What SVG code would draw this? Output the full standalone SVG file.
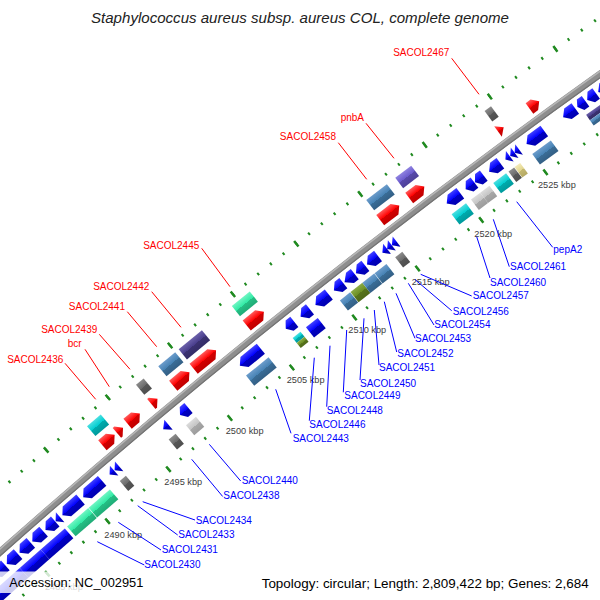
<svg xmlns="http://www.w3.org/2000/svg" width="600" height="600" viewBox="0 0 600 600">
<defs>
<linearGradient id="gRed" x1="0" y1="0" x2="0" y2="1"><stop offset="0" stop-color="#ff5a5a"/><stop offset="0.5" stop-color="#ff0000"/><stop offset="0.5" stop-color="#d40000"/><stop offset="1" stop-color="#c00000"/></linearGradient>
<linearGradient id="gBlue" x1="0" y1="0" x2="0" y2="1"><stop offset="0" stop-color="#4040ff"/><stop offset="0.5" stop-color="#0000ff"/><stop offset="0.5" stop-color="#0000c4"/><stop offset="1" stop-color="#0000b0"/></linearGradient>
<linearGradient id="gSteel" x1="0" y1="0" x2="0" y2="1"><stop offset="0" stop-color="#6c9ccb"/><stop offset="0.5" stop-color="#4682b4"/><stop offset="0.5" stop-color="#3a6d97"/><stop offset="1" stop-color="#335f85"/></linearGradient>
<linearGradient id="gDsb" x1="0" y1="0" x2="0" y2="1"><stop offset="0" stop-color="#6b60aa"/><stop offset="0.5" stop-color="#483d8b"/><stop offset="0.5" stop-color="#3b3272"/><stop offset="1" stop-color="#342c66"/></linearGradient>
<linearGradient id="gMsb" x1="0" y1="0" x2="0" y2="1"><stop offset="0" stop-color="#8f82e0"/><stop offset="0.5" stop-color="#6a5acd"/><stop offset="0.5" stop-color="#5849ab"/><stop offset="1" stop-color="#4e4199"/></linearGradient>
<linearGradient id="gCyan" x1="0" y1="0" x2="0" y2="1"><stop offset="0" stop-color="#4ddfe1"/><stop offset="0.5" stop-color="#00ced1"/><stop offset="0.5" stop-color="#00abad"/><stop offset="1" stop-color="#009a9c"/></linearGradient>
<linearGradient id="gMint" x1="0" y1="0" x2="0" y2="1"><stop offset="0" stop-color="#70f5c3"/><stop offset="0.5" stop-color="#30eaa5"/><stop offset="0.5" stop-color="#25c085"/><stop offset="1" stop-color="#20ac77"/></linearGradient>
<linearGradient id="gGray" x1="0" y1="0" x2="0" y2="1"><stop offset="0" stop-color="#8c8c8c"/><stop offset="0.5" stop-color="#6a6a6a"/><stop offset="0.5" stop-color="#575757"/><stop offset="1" stop-color="#4e4e4e"/></linearGradient>
<linearGradient id="gSilver" x1="0" y1="0" x2="0" y2="1"><stop offset="0" stop-color="#dcdcdc"/><stop offset="0.5" stop-color="#c4c4c4"/><stop offset="0.5" stop-color="#a9a9a9"/><stop offset="1" stop-color="#9c9c9c"/></linearGradient>
<linearGradient id="gOlive" x1="0" y1="0" x2="0" y2="1"><stop offset="0" stop-color="#8aaa45"/><stop offset="0.5" stop-color="#6b8e23"/><stop offset="0.5" stop-color="#58751c"/><stop offset="1" stop-color="#4f6919"/></linearGradient>
<linearGradient id="gKhaki" x1="0" y1="0" x2="0" y2="1"><stop offset="0" stop-color="#f3eab8"/><stop offset="0.5" stop-color="#e2d58e"/><stop offset="0.5" stop-color="#c4b870"/><stop offset="1" stop-color="#b5a964"/></linearGradient>
</defs>
<style>
.red{fill:url(#gRed)} .blue{fill:url(#gBlue)} .steel{fill:url(#gSteel)} .dsb{fill:url(#gDsb)} .msb{fill:url(#gMsb)}
.cyan{fill:url(#gCyan)} .mint{fill:url(#gMint)} .gray{fill:url(#gGray)} .silver{fill:url(#gSilver)} .olive{fill:url(#gOlive)} .khaki{fill:url(#gKhaki)}
.tick{fill:none;stroke:#208a20}
.tl{font-family:"Liberation Sans",Arial,sans-serif;font-size:9.2px;fill:#3c3c3c}
.lr{font-family:"Liberation Sans",Arial,sans-serif;font-size:10px;fill:#ff0000;text-anchor:end}
.lb{font-family:"Liberation Sans",Arial,sans-serif;font-size:10px;fill:#0000ff}
.cr{stroke:#ff0000;stroke-width:1;fill:none}
.cb{stroke:#0000ff;stroke-width:1;fill:none}
.leg{font-family:"Liberation Sans",Arial,sans-serif;font-size:13px;fill:#000}
</style>
<rect width="600" height="600" fill="#ffffff"/>
<g id="ruler">
<path class="tick" stroke-width="3" stroke-dasharray="2 14.2098" stroke-dashoffset="1" d="M-99.38 579.02 A7248 7248 0 0 1 688.12 -44.09"/>
<path class="tick" stroke-width="7" stroke-dasharray="2.5 78.549" stroke-dashoffset="49.879" d="M-99.38 579.02 A7248 7248 0 0 1 688.12 -44.09"/>
<path class="tick" stroke-width="3" stroke-dasharray="2 14" stroke-dashoffset="1" d="M-36.09 648.52 A7154 7154 0 0 1 741.19 33.49"/>
<path class="tick" stroke-width="7" stroke-dasharray="2.5 77.5" stroke-dashoffset="49.25" d="M-36.09 648.52 A7154 7154 0 0 1 741.19 33.49"/>
<text class="tl" x="45" y="590">2485 kbp</text>
<text class="tl" x="104.3" y="537.6">2490 kbp</text>
<text class="tl" x="164.3" y="484.8">2495 kbp</text>
<text class="tl" x="225.7" y="434">2500 kbp</text>
<text class="tl" x="286.7" y="382.6">2505 kbp</text>
<text class="tl" x="348.3" y="333.3">2510 kbp</text>
<text class="tl" x="411.7" y="285">2515 kbp</text>
<text class="tl" x="474.3" y="236.6">2520 kbp</text>
<text class="tl" x="538" y="188.3">2525 kbp</text>
</g>
<g id="backbone" fill="none">
<circle cx="4780.7" cy="5937.9" r="7201.5" stroke="#8e8e8e" stroke-width="7"/>
<circle cx="4780.7" cy="5937.9" r="7203.8" stroke="#b6b6b6" stroke-width="1.6"/>
<circle cx="4780.7" cy="5937.9" r="7198.6" stroke="#737373" stroke-width="1.2"/>
</g>
<g id="features" transform="translate(4780.7 5937.9)">
<!-- forward strand CDS (outer, r=7215) and COG (outer, r=7233) -->
<g id="SACOL2435"><g transform="rotate(-40.3583) translate(0 -7215)"><polygon class="red" points="-8,-6.5 2,-6.5 8,0 2,6.5 -8,6.5"/></g><g transform="rotate(-40.3457) translate(0 -7233)"><rect class="cyan" x="-9" y="-6.5" width="18" height="13"/></g></g>
<g id="SACOL2436"><g transform="rotate(-40.2391) translate(0 -7215)"><polygon class="red" points="-4,-6.5 -2,-6.5 4,0 -2,6.5 -4,6.5"/></g></g>
<g id="bcr"><g transform="rotate(-40.0962) translate(0 -7215)"><polygon class="red" points="-8,-6.5 2,-6.5 8,0 2,6.5 -8,6.5"/></g></g>
<g id="SACOL2439"><g transform="rotate(-39.8818) translate(0 -7215)"><polygon class="red" points="-4,-6.5 -2,-6.5 4,0 -2,6.5 -4,6.5"/></g><g transform="rotate(-39.8704) translate(0 -7233)"><rect class="gray" x="-5" y="-6.5" width="10" height="13"/></g></g>
<g id="SACOL2441"><g transform="rotate(-39.6038) translate(0 -7215)"><polygon class="red" points="-10.5,-6.5 4.5,-6.5 10.5,0 4.5,6.5 -10.5,6.5"/></g><g transform="rotate(-39.5932) translate(0 -7233)"><rect class="steel" x="-11" y="-6.5" width="22" height="13"/></g></g>
<g id="SACOL2442"><g transform="rotate(-39.3616) translate(0 -7215)"><polygon class="red" points="-14.5,-6.5 8.5,-6.5 14.5,0 8.5,6.5 -14.5,6.5"/></g><g transform="rotate(-39.3516) translate(0 -7233)"><rect class="dsb" x="-15" y="-6.5" width="30" height="13"/></g></g>
<g id="SACOL2445"><g transform="rotate(-38.8454) translate(0 -7215)"><polygon class="red" points="-11,-6.5 5,-6.5 11,0 5,6.5 -11,6.5"/></g><g transform="rotate(-38.8367) translate(0 -7233)"><rect class="mint" x="-11.5" y="-6.5" width="23" height="13"/></g></g>
<g id="SACOL2458"><g transform="rotate(-37.4875) translate(0 -7215)"><polygon class="red" points="-12,-6.5 6,-6.5 12,0 6,6.5 -12,6.5"/></g><g transform="rotate(-37.4702) translate(0 -7233)"><rect class="steel" x="-13" y="-6.5" width="26" height="13"/></g></g>
<g id="pnbA"><g transform="rotate(-37.2175) translate(0 -7215)"><polygon class="red" points="-9.5,-6.5 3.5,-6.5 9.5,0 3.5,6.5 -9.5,6.5"/></g><g transform="rotate(-37.2048) translate(0 -7233)"><rect class="msb" x="-10" y="-6.5" width="20" height="13"/></g></g>
<g id="SACOL2467"><g transform="rotate(-36.3836) translate(0 -7215)"><polygon class="red" points="-3.5,-6.5 3.5,0 -3.5,6.5"/></g><g transform="rotate(-36.3691) translate(0 -7233)"><rect class="gray" x="-4" y="-6.5" width="8" height="13"/></g></g>
<g id="SACOL2469"><g transform="rotate(-36.0541) translate(0 -7215)"><polygon class="red" points="-6,-6.5 0,-6.5 6,0 0,6.5 -6,6.5"/></g></g>
<!-- reverse strand CDS (inner, r=7188) and COG (inner, r=7170) -->
<g id="SACOL2425"><g transform="rotate(-41.8399) translate(0 -7188)"><polygon class="blue" points="8,-6.5 -2,-6.5 -8,0 -2,6.5 8,6.5"/></g></g>
<g id="SACOL2426"><g transform="rotate(-41.6964) translate(0 -7188)"><polygon class="blue" points="8,-6.5 -2,-6.5 -8,0 -2,6.5 8,6.5"/></g><g transform="rotate(-41.7084) translate(0 -7170)"><rect class="blue" x="-18.5" y="-6.5" width="37" height="13"/></g></g>
<g id="SACOL2427"><g transform="rotate(-41.5569) translate(0 -7188)"><polygon class="blue" points="7.5,-6.5 -1.5,-6.5 -7.5,0 -1.5,6.5 7.5,6.5"/></g><g transform="rotate(-41.4487) translate(0 -7170)"><rect class="blue" x="-14" y="-6.5" width="28" height="13"/></g></g>
<g id="SACOL2428"><g transform="rotate(-41.4214) translate(0 -7188)"><polygon class="blue" points="7.5,-6.5 -1.5,-6.5 -7.5,0 -1.5,6.5 7.5,6.5"/></g><g transform="rotate(-41.2090) translate(0 -7170)"><rect class="blue" x="-16" y="-6.5" width="32" height="13"/></g></g>
<g id="SACOL2429"><g transform="rotate(-41.2859) translate(0 -7188)"><polygon class="blue" points="7.5,-6.5 -1.5,-6.5 -7.5,0 -1.5,6.5 7.5,6.5"/></g><g transform="rotate(-41.1544) translate(0 -7188)"><polygon class="blue" points="6.5,-6.5 -0.5,-6.5 -6.5,0 -0.5,6.5 6.5,6.5"/></g><g transform="rotate(-41.0747) translate(0 -7188)"><polygon class="blue" points="3,-6.5 -3,0 3,6.5"/></g></g>
<g id="SACOL2430"><g transform="rotate(-40.9312) translate(0 -7188)"><polygon class="blue" points="12,-6.5 -6,-6.5 -12,0 -6,6.5 12,6.5"/></g><g transform="rotate(-40.9453) translate(0 -7170)"><rect class="mint" x="-14" y="-6.5" width="28" height="13"/></g></g>
<g id="SACOL2431"><g transform="rotate(-40.7080) translate(0 -7188)"><polygon class="blue" points="12.5,-6.5 -6.5,-6.5 -12.5,0 -6.5,6.5 12.5,6.5"/></g><g transform="rotate(-40.7175) translate(0 -7170)"><rect class="mint" x="-14" y="-6.5" width="28" height="13"/></g></g>
<g id="SACOL2433"><g transform="rotate(-40.5063) translate(0 -7188)"><polygon class="blue" points="3,-6.5 -3,0 3,6.5"/></g></g>
<g id="SACOL2434"><g transform="rotate(-40.4537) translate(0 -7188)"><polygon class="blue" points="3,-6.5 -3,0 3,6.5"/></g><g transform="rotate(-40.4698) translate(0 -7170)"><rect class="gray" x="-4" y="-6.5" width="8" height="13"/></g></g>
<g id="SACOL2438"><g transform="rotate(-39.9428) translate(0 -7188)"><polygon class="blue" points="3.5,-6.5 -3.5,0 3.5,6.5"/></g><g transform="rotate(-39.9544) translate(0 -7170)"><rect class="gray" x="-4.5" y="-6.5" width="9" height="13"/></g></g>
<g id="SACOL2440"><g transform="rotate(-39.7515) translate(0 -7188)"><polygon class="blue" points="5.5,-6.5 -0.5,-6.5 -5.5,0 -0.5,6.5 5.5,6.5"/></g><g transform="rotate(-39.7586) translate(0 -7170)"><rect class="silver" x="-6.5" y="-6.5" width="13" height="13"/></g></g>
<g id="SACOL2443"><g transform="rotate(-39.0699) translate(0 -7188)"><polygon class="blue" points="13.5,-6.5 -7.5,-6.5 -13.5,0 -7.5,6.5 13.5,6.5"/></g><g transform="rotate(-39.0730) translate(0 -7170)"><rect class="steel" x="-14.5" y="-6.5" width="29" height="13"/></g></g>
<g id="SACOL2446"><g transform="rotate(-38.6634) translate(0 -7188)"><polygon class="blue" points="5.5,-6.5 -0.5,-6.5 -5.5,0 -0.5,6.5 5.5,6.5"/></g><g transform="rotate(-38.6702) translate(0 -7170)"><rect class="cyan" x="-5" y="-6.5" width="10" height="6.5"/><rect class="olive" x="-5" y="0" width="10" height="6.5"/></g></g>
<g id="SACOL2448"><g transform="rotate(-38.5080) translate(0 -7188)"><polygon class="blue" points="6,-6.5 0,-6.5 -6,0 0,6.5 6,6.5"/></g><g transform="rotate(-38.5144) translate(0 -7170)"><rect class="blue" x="-7.5" y="-6.5" width="15" height="13"/></g></g>
<g id="SACOL2449"><g transform="rotate(-38.3366) translate(0 -7188)"><polygon class="blue" points="8.5,-6.5 -2.5,-6.5 -8.5,0 -2.5,6.5 8.5,6.5"/></g></g>
<g id="SACOL2450"><g transform="rotate(-38.1692) translate(0 -7188)"><polygon class="blue" points="6,-6.5 0,-6.5 -6,0 0,6.5 6,6.5"/></g><g transform="rotate(-38.1764) translate(0 -7170)"><rect class="steel" x="-6.5" y="-6.5" width="13" height="13"/></g></g>
<g id="SACOL2451"><g transform="rotate(-38.0576) translate(0 -7188)"><polygon class="blue" points="6.5,-6.5 0.5,-6.5 -6.5,0 0.5,6.5 6.5,6.5"/></g><g transform="rotate(-38.0605) translate(0 -7170)"><rect class="olive" x="-7.5" y="-6.5" width="15" height="13"/></g></g>
<g id="SACOL2452"><g transform="rotate(-37.9460) translate(0 -7188)"><polygon class="blue" points="6,-6.5 0,-6.5 -6,0 0,6.5 6,6.5"/></g><g transform="rotate(-37.9406) translate(0 -7170)"><rect class="steel" x="-7.5" y="-6.5" width="15" height="13"/></g></g>
<g id="SACOL2453"><g transform="rotate(-37.8264) translate(0 -7188)"><polygon class="blue" points="7,-6.5 -1,-6.5 -7,0 -1,6.5 7,6.5"/></g><g transform="rotate(-37.8168) translate(0 -7170)"><rect class="steel" x="-7.5" y="-6.5" width="15" height="13"/></g></g>
<g id="SACOL2454"><g transform="rotate(-37.7029) translate(0 -7188)"><polygon class="blue" points="3,-6.5 -3,0 3,6.5"/></g></g>
<g id="SACOL2456"><g transform="rotate(-37.6551) translate(0 -7188)"><polygon class="blue" points="3,-6.5 -3,0 3,6.5"/></g><g transform="rotate(-37.6330) translate(0 -7170)"><rect class="gray" x="-4.5" y="-6.5" width="9" height="13"/></g></g>
<g id="SACOL2457"><g transform="rotate(-37.6072) translate(0 -7188)"><polygon class="blue" points="3,-6.5 -3,0 3,6.5"/></g></g>
<g id="SACOL2460"><g transform="rotate(-37.0134) translate(0 -7188)"><polygon class="blue" points="8.5,-6.5 -2.5,-6.5 -8.5,0 -2.5,6.5 8.5,6.5"/></g><g transform="rotate(-37.0296) translate(0 -7170)"><rect class="cyan" x="-9" y="-6.5" width="18" height="13"/></g></g>
<g id="SACOL2461"><g transform="rotate(-36.8484) translate(0 -7188)"><polygon class="blue" points="5.5,-6.5 -0.5,-6.5 -5.5,0 -0.5,6.5 5.5,6.5"/></g><g transform="rotate(-36.8618) translate(0 -7170)"><rect class="silver" x="-5.75" y="-6.5" width="11.5" height="13"/></g></g>
<g id="SACOL2462"><g transform="rotate(-36.7559) translate(0 -7188)"><polygon class="blue" points="5.5,-6.5 -0.5,-6.5 -5.5,0 -0.5,6.5 5.5,6.5"/></g><g transform="rotate(-36.7700) translate(0 -7170)"><rect class="silver" x="-5.75" y="-6.5" width="11.5" height="13"/></g></g>
<g id="pepA2"><g transform="rotate(-36.6029) translate(0 -7188)"><polygon class="blue" points="7,-6.5 -1,-6.5 -7,0 -1,6.5 7,6.5"/></g><g transform="rotate(-36.6221) translate(0 -7170)"><rect class="cyan" x="-8" y="-6.5" width="16" height="13"/></g></g>
<g id="SACOL2464"><g transform="rotate(-36.4753) translate(0 -7188)"><polygon class="blue" points="2.75,-6.5 -2.75,0 2.75,6.5"/></g><g transform="rotate(-36.5062) translate(0 -7170)"><rect class="gray" x="-3.5" y="-6.5" width="7" height="13"/></g></g>
<g id="SACOL2465"><g transform="rotate(-36.4275) translate(0 -7188)"><polygon class="blue" points="2.75,-6.5 -2.75,0 2.75,6.5"/></g><g transform="rotate(-36.4463) translate(0 -7170)"><rect class="khaki" x="-3.5" y="-6.5" width="7" height="13"/></g></g>
<g id="SACOL2466"><g transform="rotate(-36.3836) translate(0 -7188)"><polygon class="blue" points="2.75,-6.5 -2.75,0 2.75,6.5"/></g></g>
<g id="SACOL2468"><g transform="rotate(-36.2003) translate(0 -7188)"><polygon class="blue" points="11,-6.5 -5,-6.5 -11,0 -5,6.5 11,6.5"/></g><g transform="rotate(-36.2066) translate(0 -7170)"><rect class="steel" x="-11.5" y="-6.5" width="23" height="13"/></g></g>
<g id="SACOL2470"><g transform="rotate(-35.8672) translate(0 -7188)"><polygon class="blue" points="7.5,-6.5 -1.5,-6.5 -7.5,0 -1.5,6.5 7.5,6.5"/></g></g>
<g id="SACOL2471"><g transform="rotate(-35.7468) translate(0 -7188)"><polygon class="blue" points="5,-6.5 -1,-6.5 -5,0 -1,6.5 5,6.5"/></g><g transform="rotate(-35.6232) translate(0 -7170)"><rect class="dsb" x="-18" y="-6.5" width="36" height="6.5"/><rect class="steel" x="-18" y="0" width="36" height="6.5"/></g></g>
<g id="SACOL2472"><g transform="rotate(-35.6463) translate(0 -7188)"><polygon class="blue" points="5.5,-6.5 -0.5,-6.5 -5.5,0 -0.5,6.5 5.5,6.5"/></g></g>
<g id="SACOL2473"><g transform="rotate(-35.5347) translate(0 -7188)"><polygon class="blue" points="6,-6.5 0,-6.5 -6,0 0,6.5 6,6.5"/></g></g>
</g>
<g id="connectors">
<line class="cr" x1="479" y1="94.3" x2="451.7" y2="58.3"/>
<line class="cr" x1="394" y1="158.3" x2="366" y2="123.3"/>
<line class="cr" x1="366.7" y1="179.3" x2="338.3" y2="142.7"/>
<line class="cr" x1="230" y1="286.7" x2="201.7" y2="248.3"/>
<line class="cr" x1="181" y1="327.3" x2="151.7" y2="291.7"/>
<line class="cr" x1="156.7" y1="346.7" x2="127.3" y2="311.7"/>
<line class="cr" x1="130" y1="369.3" x2="99.3" y2="334.3"/>
<line class="cr" x1="109.3" y1="386.7" x2="85" y2="349.3"/>
<line class="cr" x1="95.7" y1="399.3" x2="65" y2="363.3"/>
<line class="cb" x1="516.7" y1="201.7" x2="552.7" y2="247.3"/>
<line class="cb" x1="493.3" y1="219.3" x2="509.3" y2="266.7"/>
<line class="cb" x1="476.7" y1="236.7" x2="490" y2="278"/>
<line class="cb" x1="420.7" y1="274.3" x2="471.7" y2="296"/>
<line class="cb" x1="415" y1="279.5" x2="451.7" y2="310.7"/>
<line class="cb" x1="408.3" y1="283.3" x2="434" y2="325"/>
<line class="cb" x1="396" y1="293.3" x2="415" y2="338.3"/>
<line class="cb" x1="384.3" y1="301.7" x2="396.7" y2="352"/>
<line class="cb" x1="374.3" y1="310" x2="379" y2="365"/>
<line class="cb" x1="364" y1="318.3" x2="360" y2="380"/>
<line class="cb" x1="346.7" y1="330" x2="343.3" y2="392.3"/>
<line class="cb" x1="330" y1="345.7" x2="326.7" y2="406.7"/>
<line class="cb" x1="314.3" y1="357.7" x2="309.3" y2="420.7"/>
<line class="cb" x1="275.7" y1="389.3" x2="291" y2="433.3"/>
<line class="cb" x1="209.3" y1="444.3" x2="240.7" y2="481"/>
<line class="cb" x1="191.7" y1="459.3" x2="222.7" y2="496.5"/>
<line class="cb" x1="142.7" y1="501.7" x2="195" y2="520"/>
<line class="cb" x1="137.7" y1="505.7" x2="177.7" y2="535"/>
<line class="cb" x1="118.3" y1="522.3" x2="161" y2="550"/>
<line class="cb" x1="97.3" y1="541.7" x2="144.3" y2="565"/>
</g>
<g id="labels">
<text class="lr" x="449.3" y="55.9">SACOL2467</text>
<text class="lr" x="364" y="120.9">pnbA</text>
<text class="lr" x="336" y="140.3">SACOL2458</text>
<text class="lr" x="199.3" y="248.6">SACOL2445</text>
<text class="lr" x="149.3" y="289.6">SACOL2442</text>
<text class="lr" x="125" y="309.6">SACOL2441</text>
<text class="lr" x="97.3" y="332.6">SACOL2439</text>
<text class="lr" x="81.7" y="346.9">bcr</text>
<text class="lr" x="63.3" y="362.6">SACOL2436</text>
<text class="lb" x="553.3" y="252.9">pepA2</text>
<text class="lb" x="510" y="270.3">SACOL2461</text>
<text class="lb" x="490" y="285.9">SACOL2460</text>
<text class="lb" x="472.7" y="298.6">SACOL2457</text>
<text class="lb" x="452.7" y="314.6">SACOL2456</text>
<text class="lb" x="434.3" y="327.9">SACOL2454</text>
<text class="lb" x="415" y="341.9">SACOL2453</text>
<text class="lb" x="397.3" y="356.9">SACOL2452</text>
<text class="lb" x="379" y="371.3">SACOL2451</text>
<text class="lb" x="360" y="386.9">SACOL2450</text>
<text class="lb" x="344.3" y="399.3">SACOL2449</text>
<text class="lb" x="326.7" y="413.6">SACOL2448</text>
<text class="lb" x="309.3" y="427.6">SACOL2446</text>
<text class="lb" x="292.7" y="441.9">SACOL2443</text>
<text class="lb" x="241.7" y="483.6">SACOL2440</text>
<text class="lb" x="223.3" y="499.3">SACOL2438</text>
<text class="lb" x="195.7" y="523.6">SACOL2434</text>
<text class="lb" x="178.3" y="537.6">SACOL2433</text>
<text class="lb" x="161.7" y="552.6">SACOL2431</text>
<text class="lb" x="144.3" y="567.6">SACOL2430</text>
</g>
<g id="legend">
<rect x="0" y="571.5" width="151" height="21.5" fill="#ffffff" fill-opacity="0.8"/>
<text class="leg" x="9.3" y="587.3" textLength="134" lengthAdjust="spacingAndGlyphs">Accession: NC_002951</text>
<text class="leg" x="261.7" y="587.8" textLength="327" lengthAdjust="spacingAndGlyphs">Topology: circular; Length: 2,809,422 bp; Genes: 2,684</text>
</g>
<text id="title" x="300" y="22.5" text-anchor="middle" font-family="'Liberation Sans', Arial, sans-serif" font-style="italic" font-size="14.5" fill="#222" textLength="418" lengthAdjust="spacingAndGlyphs">Staphylococcus aureus subsp. aureus COL, complete genome</text>
</svg>
